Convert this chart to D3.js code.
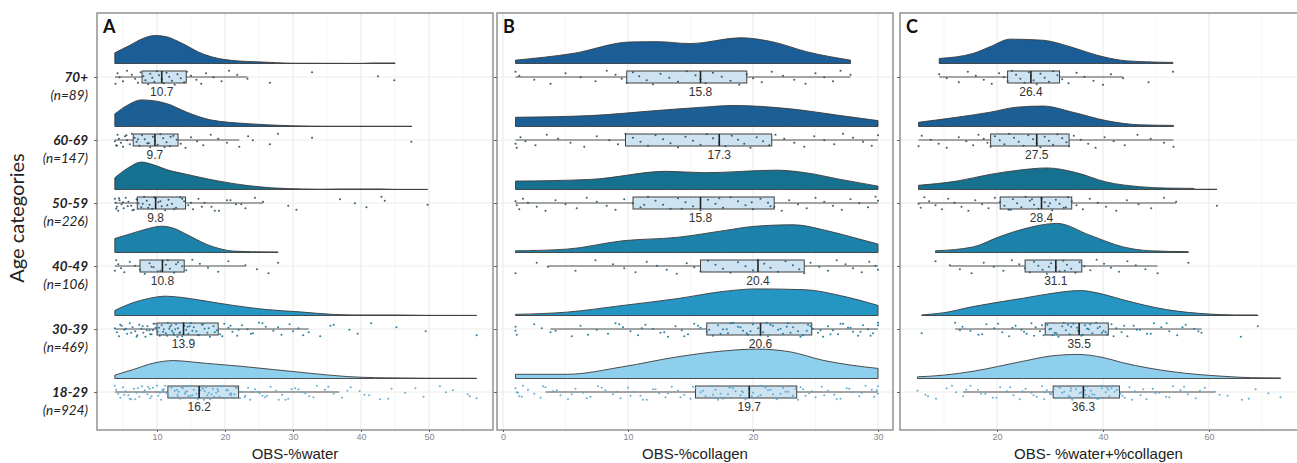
<!DOCTYPE html>
<html><head><meta charset="utf-8">
<script src="https://cdn.jsdelivr.net/npm/d3@7"></script>
<style>body{margin:0;background:#fff}</style>
</head><body><svg id="c" width="1297" height="463"></svg>
<script>
// ---------------- DATA ----------------
const ageGroups = ["18-29", "30-39", "40-49", "50-59", "60-69", "70+"];
const groupN = [924, 469, 106, 226, 147, 89];
const panelLetters = ["A", "B", "C"];
const axisTitles = ["OBS-%water", "OBS-%collagen", "OBS- %water+%collagen"];
const waterTicks = [10, 20, 30, 40, 50];
const collagenTicks = [0, 10, 20, 30];
const combinedTicks = [20, 40, 60];

// box stats: [lower whisker, q1, median, q3, upper whisker], order = ageGroups
const waterBox = [[3.8, 11.6, 16.2, 22.0, 36.8], [3.8, 10.0, 13.9, 19.0, 32.3], [3.8, 7.5, 10.8, 14.0, 23.0],
  [3.8, 7.1, 9.8, 14.2, 25.6], [3.8, 6.5, 9.7, 13.1, 22.1], [3.8, 7.8, 10.7, 14.3, 23.3]];
const collagenBox = [[3.4, 15.4, 19.7, 23.5, 30.0], [3.8, 16.3, 20.6, 24.7, 30.0], [3.6, 15.8, 20.4, 24.1, 30.0],
  [1.0, 10.4, 15.8, 21.7, 30.0], [1.0, 9.8, 17.3, 21.5, 30.0], [1.0, 9.9, 15.8, 19.5, 27.8]];
const combinedBox = [[13.6, 30.6, 36.3, 43.1, 61.1], [12.1, 29.1, 35.5, 41.0, 58.6], [11.1, 25.3, 31.1, 36.0, 50.3],
  [5.2, 20.6, 28.4, 34.1, 53.8], [5.2, 18.8, 27.5, 33.6, 53.3], [9.1, 22.0, 26.4, 31.8, 43.8]];

// density (relative height) curves [value, density]
const waterDensity = [
  [[3.8,0.12],[6.5,0.32],[9.5,0.55],[12.4,0.64],[14.8,0.6],[17.3,0.54],[22.2,0.44],[27.1,0.32],[32.0,0.2],[37.9,0.07],[42.1,0.03],[46,0.02],[50,0.01],[57,0.01]],
  [[3.8,0.18],[6.5,0.46],[9,0.62],[11.3,0.69],[13.8,0.64],[16.3,0.55],[21.2,0.36],[26.2,0.21],[31,0.13],[35.9,0.04],[40,0.02],[45.3,0.02],[50,0.005],[57,0.005]],
  [[3.8,0.5],[6,0.66],[8.5,0.84],[10.7,0.94],[12.5,0.86],[14.4,0.64],[17.3,0.29],[19.5,0.12],[21.2,0.05],[24,0.03],[27.8,0.02]],
  [[3.8,0.42],[5.8,0.78],[7.7,0.98],[9.5,0.88],[11.4,0.71],[14.4,0.54],[17.8,0.36],[23.4,0.14],[26.8,0.06],[31.5,0.02],[34,0.01],[37,0.02],[43,0.02],[45,0.005],[49.8,0.005]],
  [[3.8,0.45],[5.8,0.78],[7.7,0.95],[9.5,0.92],[11.4,0.82],[14.4,0.51],[17.8,0.24],[23.4,0.1],[29.6,0.03],[35,0.01],[47.5,0.01]],
  [[3.8,0.38],[6,0.65],[8,0.9],[9.7,1.0],[11.5,0.95],[13,0.8],[14.5,0.62],[16,0.42],[18,0.24],[20,0.14],[22,0.09],[24.7,0.06],[27.6,0.03],[30,0.01],[40,0.005],[42,0.02],[45,0.02]]
];
const collagenDensity = [
  [[1.0,0.15],[5.1,0.15],[9.6,0.42],[13.9,0.77],[17.8,0.99],[20.3,1.05],[23,0.95],[25.6,0.65],[27.8,0.48],[30,0.36]],
  [[1.0,0.04],[5.1,0.12],[9.6,0.36],[13.9,0.6],[17.8,0.87],[20.3,0.95],[24.2,0.92],[27,0.71],[30,0.36]],
  [[1.0,0.06],[5.1,0.12],[9.6,0.42],[13.9,0.54],[17.8,0.79],[20,0.93],[23.2,0.99],[26,0.77],[28.5,0.48],[30,0.3]],
  [[1.0,0.3],[7.0,0.36],[13.1,0.65],[16.1,0.6],[21.9,0.69],[24.2,0.6],[27,0.36],[30,0.12]],
  [[1.0,0.33],[7.0,0.39],[12.3,0.57],[16,0.69],[18.4,0.75],[23,0.63],[27,0.39],[30,0.21]],
  [[1.0,0.12],[5.6,0.36],[10.2,0.77],[12.3,0.78],[15,0.71],[19,0.92],[21.6,0.77],[24.3,0.42],[27.8,0.12]]
];
const combinedDensity = [
  [[5.0,0.06],[10,0.12],[15.5,0.26],[25,0.62],[30,0.8],[35.2,0.86],[40,0.75],[43.8,0.56],[53.2,0.24],[62.6,0.08],[68,0.03],[73.5,0.02]],
  [[5.8,0.02],[10,0.1],[15.5,0.32],[25,0.62],[30,0.78],[35.7,0.89],[40,0.76],[43.8,0.56],[52,0.21],[60.2,0.05],[65,0.02],[69.2,0.02]],
  [[8.4,0.06],[15.5,0.2],[20.4,0.56],[25,0.84],[31.3,1.04],[37.5,0.62],[43.8,0.2],[49,0.06],[56.1,0.03]],
  [[5.2,0.15],[12.4,0.3],[18.7,0.54],[25,0.71],[29.4,0.77],[35,0.6],[40.6,0.27],[46.9,0.1],[52,0.05],[57,0.04],[57.5,0.01],[61.5,0.01]],
  [[5.2,0.15],[12.4,0.33],[18.7,0.51],[23.7,0.69],[28.7,0.73],[34.3,0.51],[40.6,0.21],[46.9,0.06],[53.3,0.04]],
  [[9.1,0.18],[15.5,0.36],[18.7,0.6],[22.5,0.87],[28.7,0.83],[33.8,0.6],[38.8,0.3],[43.3,0.12],[48.2,0.06],[53.2,0.04]]
];

// observations (read from the jittered points)
const waterPoints = [
  [3.8,4.0,4.3,4.6,5.0,5.4,5.8,6.2,6.6,7.0,7.4,7.8,8.2,8.6,9.0,9.4,9.8,10.2,10.6,11.0,11.4,11.8,12.2,12.6,13.0,13.4,13.8,14.2,14.6,15.0,15.4,15.8,16.2,16.6,17.0,17.4,17.8,18.2,18.7,19.2,19.7,20.2,20.7,21.2,21.8,22.4,23.0,23.7,24.4,25.1,25.9,26.7,27.5,28.4,29.3,30.3,31.3,32.4,33.5,34.7,36.0,37.2,38.5,39.8,41.2,42.8,44.5,46.5,49.2,51.6,53.5,55.7,57.0,12.1,13.2,14.9,16.9,18.9,20.9,22.9,8.7,10.9,
   5.2,6.0,7.2,8.0,9.2,10.0,10.8,11.6,12.4,13.6,14.4,15.2,16.0,16.8,17.6,18.4,19.4,20.4,21.4,22.2,23.4,24.8,26.2,27.9,29.8,31.8,33.0,35.2,38.0,40.5,44.0,48.0,52.5,56.0,11.2,12.9,14.1,15.6,17.2,19.0,20.9,6.8,8.9,10.4,13.1,14.7,16.4,18.0,19.9,21.6,23.9,25.5,28.9,30.8],
  [3.8,4.1,4.4,4.8,5.2,5.6,6.0,6.4,6.8,7.1,7.4,7.7,8.0,8.3,8.6,8.9,9.2,9.5,9.8,10.1,10.4,10.7,11.0,11.3,11.6,11.9,12.2,12.5,12.8,13.1,13.4,13.7,14.0,14.3,14.6,15.0,15.4,15.8,16.2,16.6,17.0,17.4,17.8,18.3,18.8,19.3,19.9,20.5,21.1,21.8,22.5,23.3,24.1,25.0,26.0,27.1,28.3,29.5,30.8,32.3,34.0,35.5,38.3,39.5,41.5,45.2,49.5,57.0,
   4.6,5.4,6.2,7.0,7.9,8.5,9.0,9.7,10.3,10.9,11.5,12.1,12.7,13.3,13.9,14.5,15.2,16.0,16.8,17.6,18.5,19.6,20.8,22.0,23.8,25.5,27.8,30.0,31.5,36.0,11.8,12.4,13.0,14.8,9.4],
  [3.8,4.0,4.3,4.7,5.2,6.0,6.8,7.5,8.2,8.9,9.5,10.1,10.8,11.3,11.9,12.5,13.1,13.7,14.3,15.2,16.3,17.5,19.0,20.5,23.0,24.7,26.4,27.8,9.2,10.5,11.6,12.8],
  [3.8,3.9,4.1,4.3,4.5,4.8,5.1,5.4,5.8,6.2,6.6,7.0,7.3,7.7,8.1,8.5,8.9,9.3,9.8,10.2,10.7,11.2,11.7,12.2,12.8,13.4,14.0,14.6,15.3,16.1,17.0,18.0,19.1,20.3,21.6,23.0,24.4,25.6,29.3,30.5,36.9,39.1,40.8,43.0,43.5,49.8,
   4.0,4.4,5.0,5.7,6.4,7.1,7.9,8.7,9.6,10.5,11.5,12.5,13.7,15.0,16.6,18.5,20.8,22.4],
  [3.8,4.0,4.2,4.4,4.7,5.0,5.3,5.6,6.0,6.3,6.7,7.0,7.4,7.8,8.2,8.6,9.0,9.4,9.7,10.1,10.5,10.9,11.4,11.9,12.4,12.9,13.5,14.2,15.0,15.9,16.8,17.9,19.0,20.3,22.1,23.4,24.1,26.6,27.8,32.8,47.4,4.1,5.5,7.2,8.8,11.1,12.0],
  [3.9,4.2,4.5,5.0,5.6,6.3,6.8,7.2,7.6,8.0,8.3,8.7,9.0,9.3,9.6,10.0,10.3,10.7,11.0,11.4,11.8,12.2,12.6,13.0,13.5,14.0,14.4,15.0,15.8,16.5,17.2,18.3,19.5,20.6,21.8,23.3,26.6,32.8,42.5,44.9]
];
const collagenPoints = [
  [1.0,1.1,1.3,1.6,2.0,2.5,3.0,3.4,4.0,4.6,5.2,5.8,6.4,7.0,7.6,8.2,8.8,9.4,10.0,10.5,11.0,11.5,12.0,12.5,13.0,13.5,14.0,14.5,15.0,15.4,15.8,16.2,16.6,17.0,17.4,17.8,18.2,18.6,19.0,19.4,19.7,20.0,20.4,20.8,21.2,21.6,22.0,22.4,22.8,23.2,23.6,24.0,24.5,25.0,25.5,26.0,26.5,27.0,27.5,28.0,28.5,29.0,29.5,30.0,16.9,18.1,19.1,20.6,21.9,23.4,
   1.2,1.5,3.2,4.3,5.5,6.7,7.9,9.1,10.2,11.2,12.2,13.2,14.2,15.2,16.0,16.8,17.6,18.4,19.2,19.9,20.6,21.4,22.2,23.0,23.8,24.7,25.7,26.7,27.7,28.7,29.7,30.0,29.9,18.0,19.5,21.0,22.6,24.2,17.2],
  [1.0,1.1,2.5,3.1,3.8,5.5,6.2,7.5,8.4,9.0,9.6,10.2,10.8,11.4,12.0,12.6,13.2,13.8,14.3,14.8,15.3,15.8,16.3,16.8,17.2,17.6,18.0,18.4,18.8,19.2,19.6,20.0,20.4,20.8,21.2,21.6,22.0,22.4,22.8,23.2,23.6,24.0,24.4,24.8,25.2,25.6,26.0,26.4,26.8,27.2,27.6,28.0,28.4,28.8,29.2,29.6,30.0,
   1.0,4.2,6.8,9.3,11.1,12.9,14.5,15.6,16.5,17.4,18.2,19.0,19.8,20.6,21.4,22.2,23.0,23.8,24.6,25.4,26.2,27.0,27.8,28.6,29.4,30.0,17.9,19.5,21.1,22.7,24.3],
  [1.0,2.7,3.6,5.8,7.4,8.8,9.7,10.6,11.5,12.3,13.1,13.9,14.7,15.3,15.8,16.4,17.0,17.6,18.2,18.8,19.4,20.0,20.4,20.9,21.4,22.0,22.6,23.2,23.7,24.1,24.6,25.3,26.0,26.7,27.4,28.0,28.7,29.3,29.8,30.0],
  [1.0,1.1,1.3,1.6,2.0,2.7,3.4,4.2,5.0,5.9,6.7,7.5,8.3,9.0,9.7,10.4,11.0,11.6,12.2,12.8,13.4,14.0,14.6,15.2,15.8,16.4,17.0,17.6,18.2,18.8,19.4,20.0,20.6,21.2,21.7,22.3,22.9,23.6,24.3,25.0,25.7,26.4,27.1,27.8,28.5,29.2,29.8,30.0,11.3,14.3,17.3,19.9,21.4],
  [1.0,1.1,1.4,1.8,2.6,3.5,4.4,5.4,6.5,7.5,8.5,9.2,9.8,10.4,11.0,11.6,12.2,12.8,13.4,14.0,14.6,15.2,15.8,16.3,16.8,17.3,17.8,18.3,18.8,19.3,19.8,20.3,20.8,21.3,21.8,22.5,23.3,24.1,24.9,25.7,26.5,27.2,28.0,28.8,29.5,30.0],
  [1.0,1.3,2.5,3.8,5.0,6.2,7.4,8.3,9.0,9.5,9.9,10.4,10.9,11.5,12.0,12.6,13.3,14.0,14.7,15.4,15.8,16.2,16.8,17.5,18.2,18.9,19.5,20.0,20.7,21.5,22.4,23.3,24.2,25.0,25.7,26.4,27.0,27.8]
];
const combinedPoints = [
  [5.0,6.5,8.5,10.5,12.3,13.6,15.0,16.4,17.8,19.2,20.6,21.9,23.1,24.3,25.4,26.5,27.5,28.5,29.4,30.3,31.1,31.9,32.7,33.5,34.2,34.9,35.6,36.3,37.0,37.7,38.4,39.1,39.8,40.5,41.2,41.9,42.6,43.3,44.1,45.0,46.0,47.1,48.2,49.4,50.6,51.9,53.2,54.6,56.0,57.5,59.2,61.1,63.5,66.2,68.8,71.2,73.5,31.5,33.9,36.8,38.9,41.6,29.0,
   7.0,11.5,14.2,17.0,19.9,22.5,24.8,26.9,28.9,30.7,32.3,33.8,35.2,36.6,38.0,39.4,40.8,42.2,43.7,45.5,47.6,49.9,52.5,55.3,58.3,62.0,67.5,34.0,35.9,37.4,39.6,41.0,30.0,32.0],
  [5.8,12.1,13.5,15.0,16.5,18.0,19.5,21.0,22.3,23.5,24.6,25.6,26.5,27.3,28.1,28.8,29.5,30.2,30.9,31.6,32.3,33.0,33.7,34.4,35.1,35.5,35.9,36.6,37.3,38.0,38.7,39.4,40.1,40.8,41.6,42.5,43.5,44.6,45.8,47.0,48.3,49.6,51.0,52.5,54.0,55.6,57.2,58.6,66.0,69.2,
   13.0,17.2,20.2,22.9,25.1,27.0,28.5,29.9,31.2,32.6,34.0,35.3,36.2,37.6,39.0,40.5,42.0,44.0,46.4,49.0,52.0,55.0,58.0,30.5,33.4,37.0,39.8],
  [8.4,11.1,13.0,15.2,17.5,19.4,21.2,22.8,24.2,25.3,26.2,27.0,27.8,28.6,29.4,30.2,31.1,31.8,32.5,33.2,34.0,34.8,35.6,36.5,37.6,38.8,40.2,41.5,43.0,44.6,46.2,48.0,50.3,56.1,29.8,32.8],
  [5.2,5.6,6.3,7.2,8.4,9.6,10.8,12.0,13.3,14.6,15.9,17.2,18.4,19.6,20.6,21.4,22.2,23.0,23.8,24.6,25.4,26.2,27.0,27.8,28.4,29.0,29.7,30.4,31.1,31.8,32.6,33.4,34.1,35.0,36.2,37.5,39.0,40.6,42.5,44.5,46.7,49.1,51.5,53.8,61.5,22.6,26.6,30.0,33.0],
  [5.2,5.8,7.5,9.0,10.5,12.8,14.2,15.5,16.5,17.5,18.2,18.8,19.6,20.5,21.4,22.3,23.2,24.1,25.0,25.9,26.8,27.5,28.2,29.0,29.8,30.6,31.4,32.3,33.1,33.6,34.5,35.8,37.2,38.6,40.3,42.0,44.1,46.5,49.0,51.5,53.3],
  [9.1,10.5,12.8,14.5,16.0,17.5,19.0,20.4,21.3,22.0,22.8,23.6,24.4,25.2,26.0,26.4,26.9,27.5,28.2,29.0,29.8,30.6,31.4,32.3,33.5,35.0,36.5,38.2,40.0,41.5,43.8,48.6,53.2]
];

// ---------------- STYLE / LAYOUT ----------------
const cloudColors = ["#8dcfec", "#2596c3", "#1c82aa", "#16708f", "#1b5f95", "#1a5d97"];
const pointColors = ["#58a9cf", "#1a7499", "#285a72", "#2b5064", "#2c4b5f", "#2c4a5e"];
const boxFill = "#cde3f1";
const W = 1297, H = 463;
const panelTop = 13, panelBottom = 430;
const layout = [
  { frame: [97, 493], domain: [0, 60], range: [89, 497], ticks: waterTicks, box: waterBox, dens: waterDensity, pts: waterPoints },
  { frame: [497, 893], domain: [0, 30], range: [503, 878], ticks: collagenTicks, box: collagenBox, dens: collagenDensity, pts: collagenPoints },
  { frame: [900, 1300], domain: [0, 60], range: [891, 1209], ticks: combinedTicks, box: combinedBox, dens: combinedDensity, pts: combinedPoints }
];

const svg = d3.select("#c");
svg.append("rect").attr("width", W).attr("height", H).attr("fill", "#fff");

const y = d3.scalePoint().domain(ageGroups).range([392, 77]);
const dScale = d3.scaleLinear().domain([0, 1]).range([0, 28]);
const cloudOffset = -13.5;

layout.forEach((P, pi) => {
  const x = d3.scaleLinear().domain(P.domain).range(P.range);
  const [fx0, fx1] = P.frame;
  const g = svg.append("g");
  const clipId = "clip" + pi;
  g.append("clipPath").attr("id", clipId).append("rect")
    .attr("x", fx0).attr("y", panelTop).attr("width", fx1 - fx0).attr("height", panelBottom - panelTop);
  const inner = g.append("g").attr("clip-path", `url(#${clipId})`);

  const step = P.ticks[1] - P.ticks[0];
  const minor = d3.range(P.domain[0] - step / 2, P.domain[1] + step * 2, step).filter(v => x(v) > fx0 && x(v) < fx1);
  const majors = d3.range(P.domain[0] - step * 2, P.domain[1] + step * 3, step).filter(v => x(v) > fx0 && x(v) < fx1);
  inner.selectAll(".mn").data(minor).join("line")
    .attr("x1", d => x(d)).attr("x2", d => x(d)).attr("y1", panelTop).attr("y2", panelBottom)
    .attr("stroke", "#f3f3f3").attr("stroke-width", 0.8);
  inner.selectAll(".mj").data(majors).join("line")
    .attr("x1", d => x(d)).attr("x2", d => x(d)).attr("y1", panelTop).attr("y2", panelBottom)
    .attr("stroke", "#e8e8e8").attr("stroke-width", 1);
  inner.selectAll(".hg").data(ageGroups).join("line")
    .attr("x1", fx0).attr("x2", fx1).attr("y1", d => y(d)).attr("y2", d => y(d))
    .attr("stroke", "#ececec").attr("stroke-width", 1);

  ageGroups.forEach((grp, gi) => {
    const cy = y(grp);
    const base = cy + cloudOffset;
    const area = d3.area().x(d => x(d[0])).y0(base).y1(d => base - dScale(d[1])).curve(d3.curveMonotoneX);
    inner.append("path").datum(P.dens[gi]).attr("d", area)
      .attr("fill", cloudColors[gi]).attr("stroke", "#3b3b3b").attr("stroke-width", 0.9);

    const b = P.box[gi];
    inner.append("line").attr("x1", x(b[0])).attr("x2", x(b[4])).attr("y1", cy).attr("y2", cy)
      .attr("stroke", "#555").attr("stroke-width", 1);
    inner.append("rect").attr("x", x(b[1])).attr("y", cy - 6).attr("width", x(b[3]) - x(b[1])).attr("height", 12)
      .attr("fill", boxFill).attr("stroke", "#3f3f3f").attr("stroke-width", 1);
    inner.append("g").selectAll("circle").data(P.pts[gi]).join("circle")
      .attr("cx", d => x(d))
      .attr("cy", (d, i) => cy + (((i * 37 + gi * 11 + pi * 5) % 29) / 28 - 0.45) * 14)
      .attr("r", 1.05).attr("fill", pointColors[gi]).attr("opacity", 0.9);
    inner.append("line").attr("x1", x(b[2])).attr("x2", x(b[2])).attr("y1", cy - 6).attr("y2", cy + 6)
      .attr("stroke", "#222").attr("stroke-width", 1.6);
    inner.append("text").attr("x", x(b[2])).attr("y", cy + 19).attr("text-anchor", "middle")
      .attr("font-family", "Liberation Sans, Arial, sans-serif").attr("font-size", 12).attr("fill", "#333")
      .text(d3.format(".1f")(b[2]));
  });

  g.append("rect").attr("x", fx0).attr("y", panelTop).attr("width", fx1 - fx0).attr("height", panelBottom - panelTop)
    .attr("fill", "none").attr("stroke", "#8a8a8a").attr("stroke-width", 1.4);

  const xAxis = d3.axisBottom(x).tickValues(P.ticks).tickSize(2).tickPadding(2);
  const ax = g.append("g").attr("transform", `translate(0,${panelBottom})`).call(xAxis);
  ax.select(".domain").remove();
  ax.selectAll("line").attr("stroke", "#666");
  ax.selectAll("text").attr("font-family", "Liberation Sans, Arial, sans-serif").attr("font-size", 9).attr("fill", "#888");

  const yAxis = d3.axisLeft(y).tickSize(3).tickFormat("");
  const ay = g.append("g").attr("transform", `translate(${fx0},0)`).call(yAxis);
  ay.select(".domain").remove();
  ay.selectAll("line").attr("stroke", "#666");

  g.append("text").attr("x", fx0 + 6).attr("y", 33).attr("font-family", "Lato, Open Sans, sans-serif")
    .attr("font-weight", "bold").attr("font-size", 18).attr("fill", "#111").text(panelLetters[pi]);

  g.append("text").attr("x", (fx0 + Math.min(fx1, W)) / 2).attr("y", 459).attr("text-anchor", "middle")
    .attr("font-family", "Liberation Sans, Arial, sans-serif").attr("font-size", 15).attr("fill", "#222")
    .text(axisTitles[pi]);
});

const yl = svg.append("g");
ageGroups.forEach((grp, gi) => {
  yl.append("text").attr("x", 88).attr("y", y(grp) + 5).attr("text-anchor", "end")
    .attr("font-family", "Lato, Open Sans, sans-serif").attr("font-weight", "bold").attr("font-style", "italic")
    .attr("font-size", 13.5).attr("fill", "#222").text(grp);
  yl.append("text").attr("x", 88).attr("y", y(grp) + 23).attr("text-anchor", "end")
    .attr("font-family", "Lato, Open Sans, sans-serif").attr("font-style", "italic")
    .attr("font-size", 13.5).attr("fill", "#222").text(`(n=${groupN[gi]})`);
});
svg.append("text").attr("transform", "translate(24,218) rotate(-90)").attr("text-anchor", "middle")
  .attr("font-family", "Lato, Open Sans, sans-serif").attr("font-size", 20).attr("fill", "#222").text("Age categories");
</script>
</body></html>
